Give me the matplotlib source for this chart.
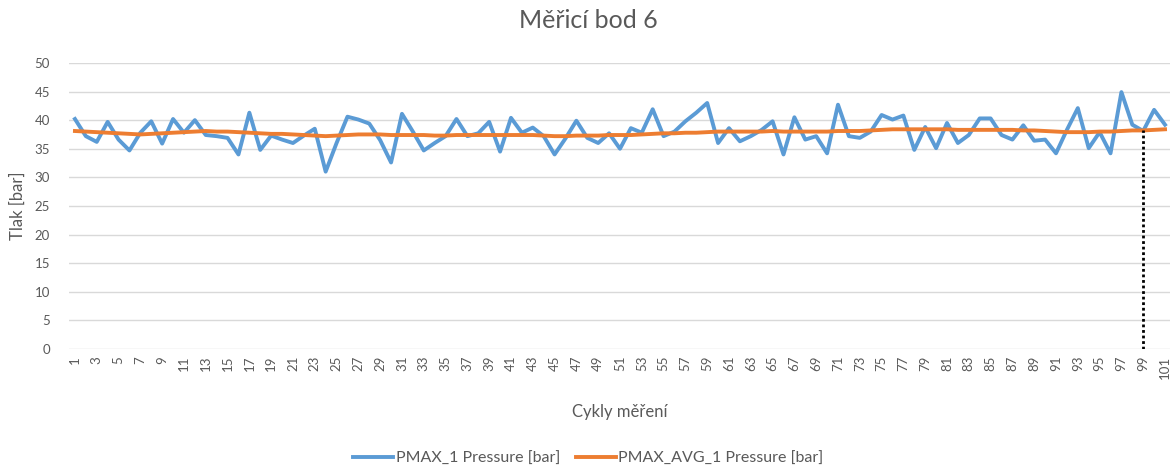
import numpy as np
import matplotlib.pyplot as plt

plt.rcParams['font.family'] = ['Lato', 'DejaVu Sans']

# Tlak v jednotlivých cyklech měření
pmax = [40.2, 37.2, 36.2, 39.7, 36.6, 34.7, 37.8, 39.8, 35.9, 40.2,
        37.8, 40.0, 37.4, 37.2, 36.9, 34.0, 41.3, 34.8, 37.3, 36.6,
        36.0, 37.3, 38.5, 31.0, 36.0, 40.6, 40.1, 39.4, 36.5, 32.6,
        41.1, 38.0, 34.7, 36.0, 37.2, 40.2, 37.2, 37.7, 39.7, 34.5,
        40.4, 37.8, 38.7, 37.2, 34.0, 36.8, 39.9, 36.9, 36.0, 37.7,
        35.0, 38.6, 37.8, 41.9, 37.2, 38.0, 39.8, 41.3, 43.0, 36.0,
        38.6, 36.3, 37.2, 38.3, 39.8, 34.0, 40.5, 36.6, 37.2, 34.2,
        42.7, 37.2, 36.9, 38.0, 40.9, 40.1, 40.8, 34.8, 38.8, 35.1,
        39.5, 36.0, 37.4, 40.3, 40.3, 37.4, 36.6, 39.1, 36.4, 36.6,
        34.2, 38.3, 42.1, 35.1, 37.9, 34.2, 44.9, 39.2, 38.1, 41.8, 39.2]

pmax_avg = [38.1, 38.0, 37.9, 37.8, 37.7, 37.6, 37.5, 37.6, 37.7, 37.8,
            37.9, 38.0, 38.1, 38.0, 38.0, 37.9, 37.8, 37.7, 37.6, 37.6,
            37.5, 37.4, 37.3, 37.2, 37.3, 37.4, 37.5, 37.5, 37.5, 37.4,
            37.4, 37.4, 37.4, 37.3, 37.3, 37.4, 37.4, 37.4, 37.4, 37.4,
            37.4, 37.4, 37.4, 37.3, 37.2, 37.2, 37.3, 37.3, 37.3, 37.4,
            37.4, 37.4, 37.5, 37.6, 37.7, 37.7, 37.8, 37.8, 37.9, 38.0,
            38.0, 38.0, 38.0, 38.0, 38.1, 38.0, 38.0, 38.0, 38.0, 38.0,
            38.1, 38.1, 38.1, 38.2, 38.3, 38.4, 38.4, 38.4, 38.4, 38.4,
            38.4, 38.3, 38.3, 38.3, 38.3, 38.3, 38.3, 38.2, 38.2, 38.1,
            38.0, 37.9, 37.9, 37.9, 38.0, 38.0, 38.1, 38.2, 38.2, 38.3, 38.4]

cykly = np.arange(1, len(pmax) + 1)
cyklus_oznaceni = 99

sed = '#595959'

fig = plt.figure(figsize=(11.7, 4.66), dpi=100)
ax = fig.add_axes([0.0594, 0.251, 0.941, 0.614])

ax.plot(cykly, pmax, color='#5B9BD5', lw=2.8, label='PMAX_1 Pressure [bar]', zorder=3)
ax.plot(cykly, pmax_avg, color='#ED7D31', lw=2.8, label='PMAX_AVG_1 Pressure [bar]', zorder=4)

# svislá značka u vybraného cyklu
ax.vlines(cyklus_oznaceni, 0, pmax_avg[cyklus_oznaceni - 1], colors='black',
          linestyles=(0, (1, 1)), lw=2, zorder=5)

ax.set_xlim(0.5, len(pmax) + 0.5)
ax.set_ylim(0, 50)
ax.set_yticks(np.arange(0, 51, 5))
ax.set_xticks(cykly[::2])
ax.set_xticklabels([str(c) for c in cykly[::2]], rotation=90)
ax.tick_params(axis='both', length=0, colors=sed, labelsize=9.5)
ax.tick_params(axis='y', pad=14)
ax.tick_params(axis='x', pad=5)

ax.grid(axis='y', color='#d9d9d9', lw=1)
ax.set_axisbelow(True)
for s in ax.spines.values():
    s.set_visible(False)

fig.suptitle('Měřicí bod 6', fontsize=18, color=sed, x=0.503, y=0.98, va='top')
ax.set_ylabel('Tlak [bar]', fontsize=12, color=sed, labelpad=6)
ax.set_xlabel('Cykly měření', fontsize=12, color=sed, labelpad=18)

fig.legend(loc='lower center', bbox_to_anchor=(0.503, -0.03), ncol=2, frameon=False,
           fontsize=11.5, labelcolor=sed, handlelength=2.5, handletextpad=0.15,
           columnspacing=1.0)

fig.savefig('out.png', dpi=100)
